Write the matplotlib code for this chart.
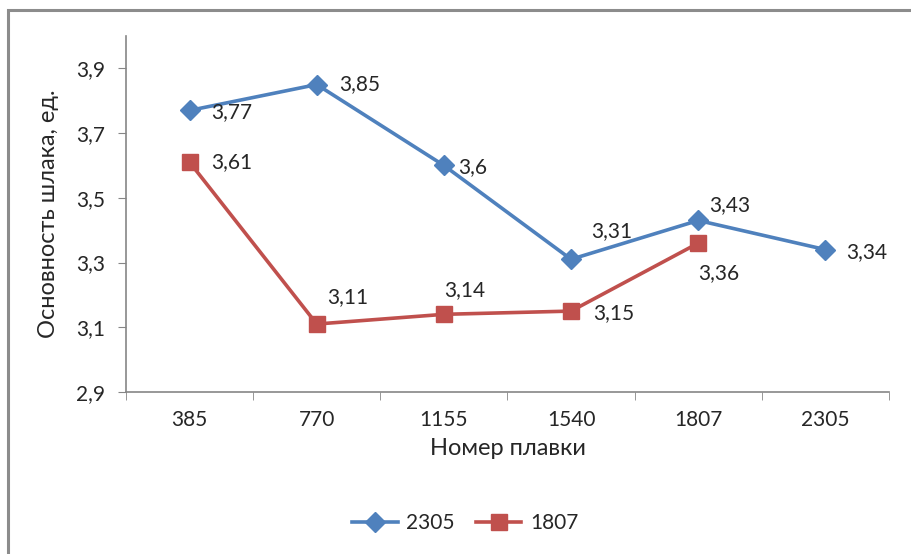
import numpy as np
import matplotlib.pyplot as plt
from matplotlib.patches import Rectangle

plt.rcParams['font.family'] = ['Lato', 'DejaVu Sans']

# номера плавок и основность шлака
plavki = ['385', '770', '1155', '1540', '1807', '2305']
s2305 = [3.77, 3.85, 3.6, 3.31, 3.43, 3.34]
s1807 = [3.61, 3.11, 3.14, 3.15, 3.36]

# смещения подписей (пиксели)
off2305 = [(22, -2), (22, 0), (14, -2), (20, 28), (11, 15), (21, -2)]
off1807 = [(22, 0), (10, 27), (0, 24), (22, -2), (0, -30)]

blue = '#4F81BD'
red = '#C0504D'
gray = '#868686'
txt = '#262626'
fs = 15

fig = plt.figure(figsize=(9.12, 5.54), dpi=100)
fig.patches.append(Rectangle((8 / 912, -0.1), 1.2, (554 - 10) / 554 + 0.1,
                             transform=fig.transFigure, fill=False,
                             edgecolor='#8c8c8c', linewidth=2.2))
ax = fig.add_axes([126 / 912, (554 - 392) / 554, (889 - 126) / 912, (392 - 36) / 554])

x = np.arange(len(plavki))
ax.plot(x, s2305, color=blue, lw=2.6, marker='D', ms=10, label='2305')
ax.plot(x[:len(s1807)], s1807, color=red, lw=2.6, marker='s', ms=11, label='1807')

for xi, v, o in zip(x, s2305, off2305):
    ax.annotate(str(v).replace('.', ','), (xi, v), xytext=o, textcoords='offset pixels',
                ha='left', va='center', fontsize=fs, color=txt)
for xi, v, o in zip(x, s1807, off1807):
    ax.annotate(str(v).replace('.', ','), (xi, v), xytext=o, textcoords='offset pixels',
                ha='left', va='center', fontsize=fs, color=txt)

ax.set_xlim(-0.5, len(plavki) - 0.5)
ax.set_ylim(2.9, 4.0)
ax.set_yticks(np.arange(2.9, 3.95, 0.2))
ax.set_yticklabels([f'{t:.1f}'.replace('.', ',') for t in np.arange(2.9, 3.95, 0.2)])
ax.set_xticks(x)
ax.set_xticklabels(plavki)
ax.set_xticks(np.arange(-0.5, len(plavki)), minor=True)
ax.tick_params(axis='x', which='major', length=0, pad=13, labelsize=fs, labelcolor=txt)
ax.tick_params(axis='x', which='minor', length=6, color=gray)
ax.tick_params(axis='y', length=6, color=gray, pad=9, labelsize=fs, labelcolor=txt)

for s in ['top', 'right']:
    ax.spines[s].set_visible(False)
for s in ['left', 'bottom']:
    ax.spines[s].set_color(gray)
    ax.spines[s].set_linewidth(1.2)

ax.set_xlabel('Номер плавки', fontsize=17, color=txt, labelpad=6)
ax.set_ylabel('Основность шлака, ед.', fontsize=17, color=txt, labelpad=12)

fig.legend(loc='center', bbox_to_anchor=(0.51, (554 - 523) / 554), ncol=2,
           frameon=False, fontsize=fs, handlelength=2.2, columnspacing=1.0,
           handletextpad=0.4, labelcolor=txt)

fig.savefig('out.png', dpi=100)
